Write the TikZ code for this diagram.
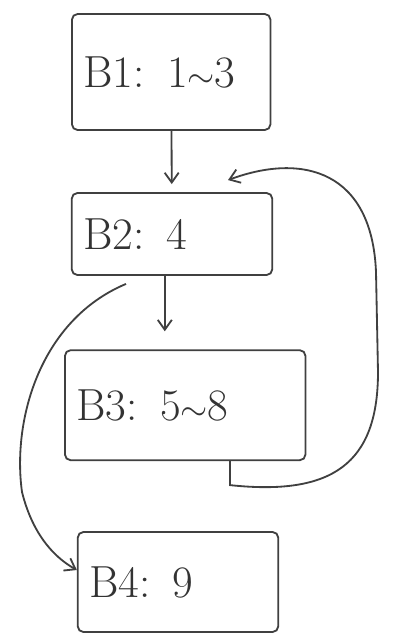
\documentclass[tikz,border=0pt]{standalone}
\usepackage{tikz}
\usetikzlibrary{arrows.meta}
\tikzstyle{block} = [rectangle, draw, rounded corners=4pt, inner xsep=8pt, align=left, text width=#1, minimum height=2.5cm, font=\fontsize{32}{38}\selectfont]
\tikzstyle{line} = [draw, -{Straight Barb[length=7pt,width=10pt]}]

\begin{document}
\begin{tikzpicture}[line width=1.3pt, color=black!75, text=black!80]
      \useasboundingbox (0,0) rectangle (10,-15.9);
      % place nodes
      \node [block=4.4cm, minimum height=2.9cm] (b1) at (4.28,-1.8) {B1: 1$\sim$3};
      \node [block=4.45cm, minimum height=2.05cm] (b2) at (4.3,-5.85) {B2: 4};
      \node [block=5.45cm, minimum height=2.75cm] (b3) at (4.63,-10.13) {B3: 5$\sim$8};
      \node [block=4.45cm, minimum height=2.5cm] (b4) at (4.45,-14.55) {B4: 9};

      % draw edges
      \path [line, shorten >=0.2cm] (b1) -- (b2);
      \path [line, shorten >=0.45cm] ([xshift=-0.18cm]b2.south) -- ([xshift=-0.18cm]b2.south |- b3.north);
      \path [line] ([xshift=1.12cm]b3.south) -- ++(0,-0.6)
            .. controls (8.3,-12.4) and (9.45,-11.6) .. (9.45,-9.3)
            -- (9.4,-6.8)
            .. controls (9.3,-4.3) and (7.6,-3.8) .. ([xshift=1.4cm,yshift=0.3cm]b2.north);
      \path [line] ([xshift=-1.15cm,yshift=-0.2cm]b2.south)
            .. controls (1.0,-8.0) and (0.3,-10.5) .. (0.55,-12.3)
            .. controls (0.8,-13.3) and (1.3,-13.9) .. ([yshift=0.3cm]b4.west);
\end{tikzpicture}
\end{document}
